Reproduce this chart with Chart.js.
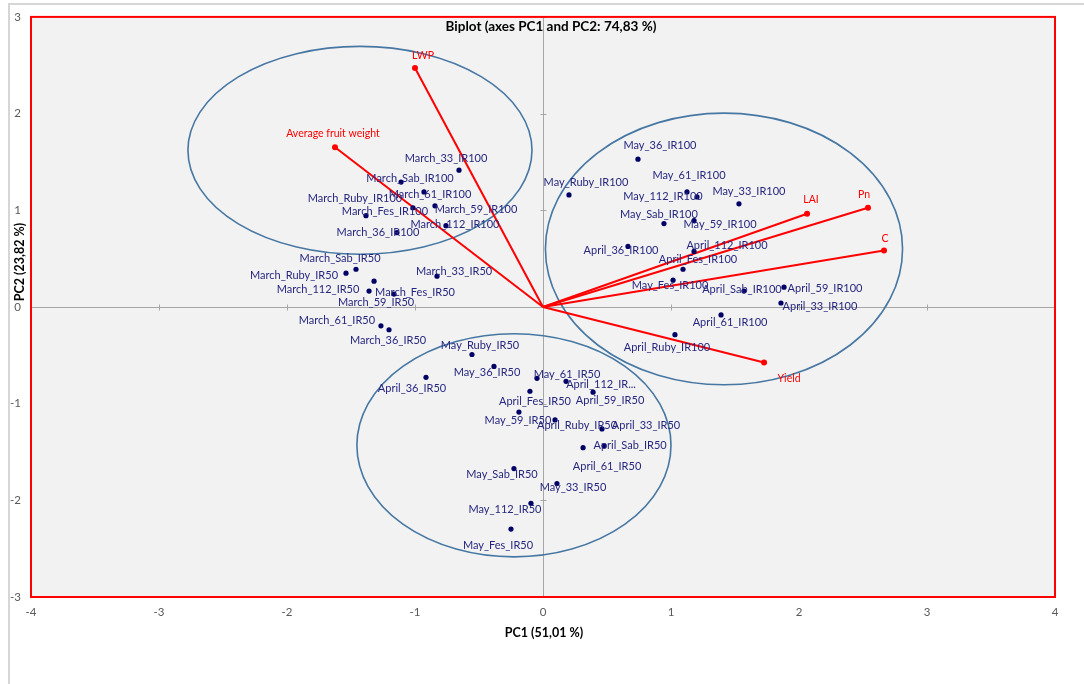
<!DOCTYPE html>
<html>
<head>
<meta charset="utf-8">
<script src="https://cdn.jsdelivr.net/npm/chart.js@4.4.1/dist/chart.umd.min.js"></script>
<style>
html,body{margin:0;padding:0;background:#ffffff;}
canvas{display:block;}
</style>
</head>
<body>
<canvas id="c" width="1084" height="684"></canvas>
<script>
// ---------- DATA ----------
const obsNames = [
  'March_33_IR100','March_Sab_IR100','March_61_IR100','March_Ruby_IR100','March_Fes_IR100','March_59_IR100','March_112_IR100','March_36_IR100',
  'March_Sab_IR50','March_Ruby_IR50','March_112_IR50','March_Fes_IR50','March_59_IR50','March_33_IR50','March_61_IR50','March_36_IR50',
  'May_Ruby_IR50','May_36_IR50','April_36_IR50','May_61_IR50','April_112_IR...','April_59_IR50','April_Fes_IR50','May_59_IR50',
  'April_Ruby_IR50','April_33_IR50','April_Sab_IR50','April_61_IR50','May_Sab_IR50','May_33_IR50','May_112_IR50','May_Fes_IR50',
  'May_36_IR100','May_Ruby_IR100','May_61_IR100','May_112_IR100','May_33_IR100','May_Sab_IR100','May_59_IR100','April_36_IR100',
  'April_112_IR100','April_Fes_IR100','May_Fes_IR100','April_Sab_IR100','April_59_IR100','April_33_IR100','April_61_IR100','April_Ruby_IR100'
];
const obsX = [
  -0.656,-1.109,-0.930,-1.383,-1.016,-0.844,-0.758,-1.141,
  -1.461,-1.539,-1.359,-1.164,-1.320,-0.828,-1.266,-1.203,
  -0.555,-0.383,-0.914,-0.047,0.180,0.391,-0.102,-0.188,
  0.094,0.461,0.313,0.477,-0.227,0.109,-0.094,-0.250,
  0.742,0.203,1.125,1.203,1.531,0.945,1.180,0.664,
  1.180,1.094,1.016,1.570,1.883,1.859,1.391,1.031
];
const obsY = [
  1.415,1.292,1.190,0.944,1.026,1.046,0.841,0.769,
  0.390,0.349,0.164,0.133,0.267,0.318,-0.195,-0.236,
  -0.492,-0.615,-0.728,-0.738,-0.769,-0.882,-0.872,-1.087,
  -1.169,-1.262,-1.456,-1.436,-1.672,-1.826,-2.031,-2.297,
  1.528,1.159,1.190,1.138,1.067,0.862,0.892,0.626,
  0.574,0.390,0.277,0.164,0.205,0.041,-0.082,-0.287
];
const varNames = ['LWP','Average fruit weight','LAI','Pn','C','Yield'];
const varX = [-1.000,-1.625,2.063,2.539,2.664,1.727];
const varY = [2.472,1.651,0.964,1.026,0.585,-0.574];
// group ellipses (centre and semi-axes in PC units)
const ellipseCX = [-1.430, 1.414, -0.227];
const ellipseCY = [1.620, 0.600, -1.431];
const ellipseRX = [1.344, 1.395, 1.227];
const ellipseRY = [1.075, 1.405, 1.154];
const xTickValues = [-4,-3,-2,-1,0,1,2,3,4];
const yTickValues = [-3,-2,-1,0,1,2,3];
const chartTitle = 'Biplot (axes PC1 and PC2: 74,83 %)';
const xTitle = 'PC1 (51,01 %)';
const yTitle = 'PC2 (23,82 %)';

// ---------- STYLE: label offsets in px (label centre relative to point) ----------
const labelOffset = {
  'March_33_IR100':[-13,-12],'March_Sab_IR100':[9,-4],'March_61_IR100':[6,3],'March_Ruby_IR100':[-11,-17],
  'March_Fes_IR100':[-28,4],'March_59_IR100':[41,4],'March_112_IR100':[9,-1],'March_36_IR100':[-19,0],
  'March_Sab_IR50':[-16,-11],'March_Ruby_IR50':[-52,2],'March_112_IR50':[-51,-2],'March_Fes_IR50':[21,-2],
  'March_59_IR50':[2,21],'March_33_IR50':[17,-5],'March_61_IR50':[-44,-5],'March_36_IR50':[-1,11],
  'May_Ruby_IR50':[8,-9],'May_36_IR50':[-7,6],'April_36_IR50':[-14,11],'May_61_IR50':[30,-4],
  'April_112_IR...':[35,3],'April_59_IR50':[17,8],'April_Fes_IR50':[5,10],'May_59_IR50':[-1,8],
  'April_Ruby_IR50':[22,5],'April_33_IR50':[44,-4],'April_Sab_IR50':[47,-2],'April_61_IR50':[3,21],
  'May_Sab_IR50':[-12,6],'May_33_IR50':[16,4],'May_112_IR50':[-26,6],'May_Fes_IR50':[-13,16],
  'May_36_IR100':[22,-14],'May_Ruby_IR100':[17,-12],'May_61_IR100':[2,-16],'May_112_IR100':[-34,0],
  'May_33_IR100':[10,-12],'May_Sab_IR100':[-5,-9],'May_59_IR100':[26,4],'April_36_IR100':[-7,4],
  'April_112_IR100':[33,-6],'April_Fes_IR100':[15,-10],'May_Fes_IR100':[-3,5],'April_Sab_IR100':[-2,-2],
  'April_59_IR100':[41,1],'April_33_IR100':[39,3],'April_61_IR100':[9,8],'April_Ruby_IR100':[-8,13],
  'LWP':[8,-12],'Average fruit weight':[-2,-14],'LAI':[4,-14],'Pn':[-4,-13],'C':[1,-12],'Yield':[25,16]
};

const FONT = 'Lato, "Liberation Sans", "DejaVu Sans", sans-serif';
const OBS_COLOR = '#000066';
const OBS_LABEL = '#26267f';
const VAR_COLOR = '#ff0000';
const ELLIPSE_COLOR = '#4677a3';

// ---------- DATASETS ----------
const datasets = [];
datasets.push({
  label: 'Observations',
  data: obsX.map((x, i) => ({x: x, y: obsY[i], name: obsNames[i]})),
  pointRadius: 2.6,
  pointBackgroundColor: OBS_COLOR,
  pointBorderColor: OBS_COLOR,
  pointBorderWidth: 0,
  showLine: false,
  order: 1
});
varNames.forEach((n, i) => {
  datasets.push({
    label: n,
    data: [{x: 0, y: 0}, {x: varX[i], y: varY[i], name: n}],
    showLine: true,
    borderColor: VAR_COLOR,
    borderWidth: 2,
    pointRadius: [0, 3],
    pointBackgroundColor: VAR_COLOR,
    pointBorderColor: VAR_COLOR,
    pointBorderWidth: 0,
    isVar: true,
    order: 2
  });
});

// ---------- PLUGINS ----------
const backgroundPlugin = {
  id: 'bgPlot',
  beforeDraw(chart) {
    const {ctx, chartArea: a} = chart;
    ctx.save();
    ctx.fillStyle = '#ffffff';
    ctx.fillRect(0, 0, chart.width, chart.height);
    // outer grey frame (top/left)
    ctx.strokeStyle = '#d6d6d6';
    ctx.lineWidth = 2;
    ctx.beginPath();
    ctx.moveTo(9, chart.height);
    ctx.lineTo(9, 4);
    ctx.lineTo(chart.width, 4);
    ctx.stroke();
    ctx.fillStyle = '#f2f2f2';
    ctx.fillRect(a.left, a.top, a.right - a.left, a.bottom - a.top);
    ctx.restore();
  },
  beforeDatasetsDraw(chart) {
    const {ctx, chartArea: a, scales: {x, y}} = chart;
    ctx.save();
    // zero axes
    const x0 = Math.round(x.getPixelForValue(0)) + 0.5;
    const y0 = Math.round(y.getPixelForValue(0)) + 0.5;
    ctx.strokeStyle = '#a6a6a6';
    ctx.lineWidth = 1;
    ctx.beginPath();
    ctx.moveTo(a.left, y0); ctx.lineTo(a.right, y0);
    ctx.moveTo(x0, a.top); ctx.lineTo(x0, a.bottom);
    xTickValues.forEach(v => {
      const px = Math.round(x.getPixelForValue(v)) + 0.5;
      ctx.moveTo(px, y0 - 3); ctx.lineTo(px, y0 + 3);
    });
    yTickValues.forEach(v => {
      const py = Math.round(y.getPixelForValue(v)) + 0.5;
      ctx.moveTo(x0 - 3, py); ctx.lineTo(x0 + 3, py);
    });
    ctx.stroke();
    // ellipses
    ctx.strokeStyle = ELLIPSE_COLOR;
    ctx.lineWidth = 1.6;
    ellipseCX.forEach((cx, i) => {
      const pcx = x.getPixelForValue(cx);
      const pcy = y.getPixelForValue(ellipseCY[i]);
      const prx = Math.abs(x.getPixelForValue(cx + ellipseRX[i]) - pcx);
      const pry = Math.abs(y.getPixelForValue(ellipseCY[i] + ellipseRY[i]) - pcy);
      ctx.beginPath();
      ctx.ellipse(pcx, pcy, prx, pry, 0, 0, Math.PI * 2);
      ctx.stroke();
    });
    ctx.restore();
  },
  afterDatasetsDraw(chart) {
    const {ctx} = chart;
    ctx.save();
    ctx.textAlign = 'center';
    ctx.textBaseline = 'middle';
    chart.data.datasets.forEach((ds, di) => {
      const meta = chart.getDatasetMeta(di);
      ds.data.forEach((d, j) => {
        if (!d.name) return;
        const el = meta.data[j];
        const off = labelOffset[d.name] || [0, -12];
        if (ds.isVar) {
          ctx.font = '10.5px ' + FONT;
          ctx.fillStyle = VAR_COLOR;
        } else {
          ctx.font = '11px ' + FONT;
          ctx.fillStyle = OBS_LABEL;
        }
        ctx.fillText(d.name, el.x + off[0], el.y + off[1]);
      });
    });
    ctx.restore();
  },
  afterDraw(chart) {
    const {ctx, chartArea: a} = chart;
    ctx.save();
    ctx.strokeStyle = '#ff0000';
    ctx.lineWidth = 2;
    ctx.strokeRect(a.left, a.top, a.right - a.left, a.bottom - a.top);
    ctx.fillStyle = '#000000';
    ctx.textAlign = 'center';
    ctx.textBaseline = 'middle';
    ctx.font = 'bold 13.5px ' + FONT;
    ctx.fillText(chartTitle, 551, 27);
    ctx.font = 'bold 12.5px ' + FONT;
    ctx.fillText(xTitle, 544, 633);
    ctx.translate(20, 262);
    ctx.rotate(-Math.PI / 2);
    ctx.fillText(yTitle, 0, 0);
    ctx.restore();
  }
};

new Chart(document.getElementById('c'), {
  type: 'scatter',
  data: {datasets: datasets},
  plugins: [backgroundPlugin],
  options: {
    responsive: false,
    animation: false,
    events: [],
    layout: {padding: {top: 12, right: 29, left: 0, bottom: 0}},
    plugins: {legend: {display: false}, tooltip: {enabled: false}, title: {display: false}},
    scales: {
      x: {
        type: 'linear', min: -4, max: 4,
        afterFit(s) { s.height = 87; },
        afterBuildTicks(s) { s.ticks = xTickValues.map(v => ({value: v})); },
        grid: {display: false, drawTicks: false},
        border: {display: false},
        ticks: {padding: 8, color: '#595959', font: {family: FONT, size: 11.5}, maxRotation: 0}
      },
      y: {
        type: 'linear', min: -3, max: 3,
        afterFit(s) { s.width = 31; },
        afterBuildTicks(s) { s.ticks = yTickValues.map(v => ({value: v})); },
        grid: {display: false, drawTicks: false},
        border: {display: false},
        ticks: {padding: 10, color: '#595959', font: {family: FONT, size: 11.5}}
      }
    }
  }
});
</script>
</body>
</html>
